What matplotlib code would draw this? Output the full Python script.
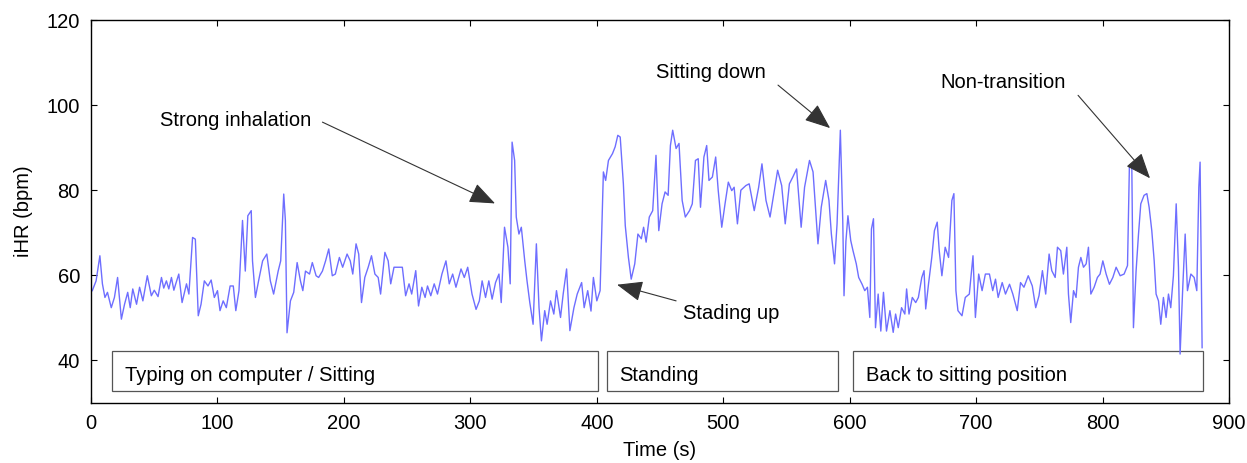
import numpy as np
import matplotlib
matplotlib.use("Agg")
import matplotlib.pyplot as plt
from matplotlib.patches import Rectangle

plt.rcParams['font.family'] = ['Liberation Sans', 'DejaVu Sans']

# iHR trace (time in s, iHR in bpm)
time_s = [1, 4, 7, 9, 11, 13, 16, 18.5, 21, 24, 26.5, 29, 31, 33, 36, 38.4, 41, 44.5, 47.7, 50, 53,
          55.7, 57.5, 59.6, 61.5, 63.6, 65.5, 67, 69.4, 72, 75.5, 77.4, 80.3, 82.5, 84.8, 87, 89.6,
          92.5, 95, 97.5, 100, 102, 104.5, 107, 110, 112.5, 114.5, 117, 119.8, 122, 124, 126.7, 127.7,
          130, 132.5, 135.7, 139, 141.8, 144.4, 148, 150, 152.4, 153.7, 155, 157.7, 160.3, 163, 165.6,
          167.5, 169.6, 172.8, 175, 178, 180, 183, 185.5, 188, 190.8,
          193.2, 196.4, 199, 202.5, 205, 207, 209.6, 211.7, 213.9, 216.5, 219.2, 221.8, 224.5, 227.1,
          229, 232.4, 235, 237, 239.6, 243.6, 246.2, 248.8, 251.5, 253.6, 256.8, 259, 261.6, 264.2,
          266.1, 268.7, 271.4, 274, 277.5, 280.7, 283.3, 286, 288.6, 292.6, 295.2, 297.9, 301.3, 304.5,
          307.1, 309.3, 312, 314.6, 317.2, 319.9, 322.6, 324.4, 327, 329.7, 331.5, 333, 335, 336.3,
          338.4, 340.3, 343, 344.8, 347, 349.6, 352.2, 354.3, 356.2, 358.8, 360.7, 363.4, 366, 368.1,
          371.3, 373.4, 376.1, 378.7, 381.9, 384.5,
          388, 390, 392.8, 395.4, 397.3, 400, 402.6, 405.2, 407, 409.2, 412.4, 414.5, 416.6, 418.5,
          421, 422.5, 425, 427.2, 430, 432.5, 435.2, 437, 439, 441.5, 444.2, 446.8, 449, 451.6, 454,
          456.4, 458.2, 460, 462.7, 465, 467.5, 470, 473.3, 475.5, 478, 480.2, 482, 484.7, 486.9,
          488.7, 491.4, 494, 496, 498.8, 501.4, 504, 506.7, 508.6, 511.2, 513.9, 517.9, 520.5, 524.5,
          528, 530.6, 533.8, 537, 539.6, 543, 546.2, 549, 552.3, 555, 558, 561.6, 564.3, 568.2, 571,
          574.9, 577.5, 581, 583.6, 585.5, 588, 590, 592.6,
          594.5, 595.5, 597, 598.6, 600.8, 602.6, 605.2, 607.1, 609.8, 611.9, 614, 615.9, 617.2, 618.8,
          620.4, 622.5, 624.6, 626.7, 629.1, 631.8, 634.4, 636.3, 638.4, 641, 643.6, 645, 646.9, 649.5,
          652.2, 654.3, 657, 658.8, 660.1, 662.3, 664.9, 667, 669.2, 670.8, 672.9, 675.5, 678.2, 680.8,
          682.4, 684, 685.6, 688.8, 691.4, 694.6, 697.5, 699.4, 702, 704.7, 707.3, 710.5, 713.1, 715.3,
          717.4, 720.6, 723.2, 726.4, 729, 732.5, 735.1, 737.8, 741.2, 744.4, 747.1, 749.7, 752.4, 755,
          757.7,
          759.8, 762.5, 764.3, 766.9, 769, 771.7, 773, 774.8, 777, 779, 780.9, 782.8, 784.9, 787, 788.8,
          790.7, 793.3, 795.9, 798, 800.2, 802.8, 805.4, 808.1, 810.7, 813.9, 817, 819.7, 821.2, 823.1,
          824.4, 826.5, 828.4, 830.2, 832.8, 835, 836.8, 838.9, 840.8, 842.3, 844.2, 846, 848.1,
          850.2, 852.1, 853.9, 856, 858.2, 860, 861.3, 863.4, 865.3, 867.1, 869.8, 872.4, 874.5, 876.1,
          877.1, 878.7]

ihr_bpm = [56.4, 58.7, 64.6, 58, 54.8, 56, 52.4, 54.8, 59.5, 49.7, 53.2, 56, 52.4, 56.8, 53.2, 57.2, 54,
           59.9, 55.2, 56.5, 55, 59.5, 57, 58.7, 56.8, 59.5, 56.5, 58, 60.3, 53.6, 58, 55.6, 68.9, 68.5,
           50.5, 53.2, 58.7, 57.5, 58.9, 54.8, 56.4, 51.7, 54, 52.4, 57.5, 57.5, 51.7, 56.4, 72.9, 61,
           74, 75.2, 63.4, 54.8, 58.7, 63.4, 65, 58.7, 55.6, 61, 63.4, 79.1, 72.9, 46.5, 54, 56, 63,
           58.7, 56.4, 61, 60.3, 63, 59.9, 59.5, 61, 63.4, 66.2, 59.9,
           60.3, 64.2, 61.9, 65, 63.4, 60.3, 67.4, 65, 53.6, 59.5, 61.9, 64.6, 60.3, 59.5, 55.6, 65.4,
           63.4, 58, 61.9, 61.9, 61.9, 55.2, 58, 55.6, 61.1, 52.8, 57.2, 54.8, 57.5, 55.2, 58, 55.6,
           60.3, 63.4, 58, 60.3, 57.2, 61.5, 59.5, 61.9, 55.6, 52, 54, 58.7, 54.8, 58.7, 54.4, 58.3,
           60.3, 53.6, 71.3, 66.6, 58, 91.3, 87, 73.7, 69.7, 71.3, 63.4, 58.7, 53.6, 48.5, 67.4, 52.4,
           44.6, 51.7, 48.5, 54, 50.9, 56.4, 50.1, 55.6, 61.5, 47, 52.4, 55.6,
           58.3, 52.4, 56.4, 51.6, 59.5, 54, 56.4, 84.3, 82.3, 87, 88.6, 90.2, 92.9, 92.5, 81.5, 71.7,
           64.2, 59.1, 62.7, 69.7, 68.6, 71.3, 67.8, 73.7, 75.2, 88.2, 70.5, 76.8, 79.6, 78.8, 90.5,
           94.1, 89.8, 91, 77.6, 73.7, 75.2, 76.8, 87, 87.4, 76, 87.8, 90.5, 82.3, 83.1, 87.8, 80,
           71.3, 76.8, 81.9, 79.9, 80.7, 72.1, 80, 81.1, 81.5, 75.2, 80.7, 86.2, 77.6, 73.7, 78.4,
           84.7, 81.1, 72.1, 81.5, 83.1, 85, 71.3, 80.7, 87, 84.3, 67.4, 76, 82.3, 77.6, 69.7, 62.7,
           72.1, 94.1,
           72.9, 55.2, 68, 74, 68.2, 65.8, 62.7, 59.5, 57.9, 56.4, 57.2, 50.1, 70.9, 73.3, 47.7, 55.6,
           46.9, 56, 46.9, 51.7, 46.6, 50.9, 47.7, 52.4, 50.9, 56.8, 50.9, 54.8, 53.6, 54.8, 59.5, 61.1,
           52.1, 57.9, 64.2, 70.5, 72.5, 65.8, 59.9, 66.6, 64.2, 77.6, 79.2, 56.4, 51.7, 50.5, 54.8,
           55.6, 64.6, 50.1, 60.3, 56.4, 60.3, 60.3, 56.4, 59.1, 54.8, 58.3, 55.6, 57.9, 55.6, 51.7,
           58.3, 57.2, 59.9, 57.5, 52.4, 55.2, 61.1, 55.6, 65,
           61.1, 59.5, 66.6, 65.8, 60.3, 66.6, 55.6, 48.9, 56.4, 54.8, 61.9, 64.2, 61.9, 62.7, 66.6,
           55.6, 57.2, 59.5, 60.3, 63.4, 60.3, 57.9, 59.5, 61.9, 59.9, 60.3, 62.3, 85.8, 85.8, 47.7,
           61.1, 69.7, 76.8, 78.8, 79.2, 76, 70.5, 63.4, 55.6, 54, 48.5, 54.8, 50.1, 55.6, 52.4, 59.9,
           76.8, 61.9, 41.5, 57.2, 69.7, 56.4, 60.3, 59.5, 56.4, 80.7, 86.6, 43]

# activity boxes: (start, end, label)
box_start = [16.6, 408, 602.6]
box_end = [401, 590.8, 879.5]
box_labels = ['Typing on computer / Sitting', 'Standing', 'Back to sitting position']

# annotations: label, text position, arrow tail, arrow head
ann_labels = ['Strong inhalation', 'Sitting down', 'Non-transition', 'Stading up']
ann_text_xy = [(54.6, 96.4), (446.9, 107.7), (671.5, 105.4), (468.2, 51.0)]
ann_tail_xy = [(183, 96.0), (543.3, 104.7), (780.6, 102.3), (462.7, 54.0)]
ann_head_xy = [(319.5, 76.9), (584.5, 94.6), (837.5, 82.8), (416, 57.8)]

fig = plt.figure(figsize=(12.47, 4.63), dpi=100)
ax = fig.add_axes([0.073, 0.1296, 0.9126, 0.8272])

ax.plot(time_s, ihr_bpm, color='#6e6eff', lw=1.0)

for s, e, lab in zip(box_start, box_end, box_labels):
    ax.add_patch(Rectangle((s, 32.8), e - s, 9.4, fill=False, edgecolor='#555555', lw=0.9))
    ax.text(s + 10, 36.4, lab, fontsize=14.5, ha='left', va='center')

for lab, txy, tail, head in zip(ann_labels, ann_text_xy, ann_tail_xy, ann_head_xy):
    ax.text(txy[0], txy[1], lab, fontsize=14.5, ha='left', va='center')
    ax.annotate('', xy=head, xytext=tail,
                arrowprops=dict(arrowstyle='-|>,head_length=1.0,head_width=0.4',
                                color='#333333', lw=0.8, shrinkA=0, shrinkB=0,
                                mutation_scale=16))

ax.set_xlim(0, 900)
ax.set_ylim(30, 120)
ax.set_xticks(np.arange(0, 901, 100))
ax.set_yticks([40, 60, 80, 100, 120])
ax.tick_params(direction='in', top=True, right=True, length=4, labelsize=14.5, pad=8)
for sp in ax.spines.values():
    sp.set_linewidth(1.0)
ax.set_xlabel('Time (s)', fontsize=14.5, labelpad=6)
ax.set_ylabel('iHR (bpm)', fontsize=14.5, labelpad=10)

fig.savefig('out.png', dpi=100)
